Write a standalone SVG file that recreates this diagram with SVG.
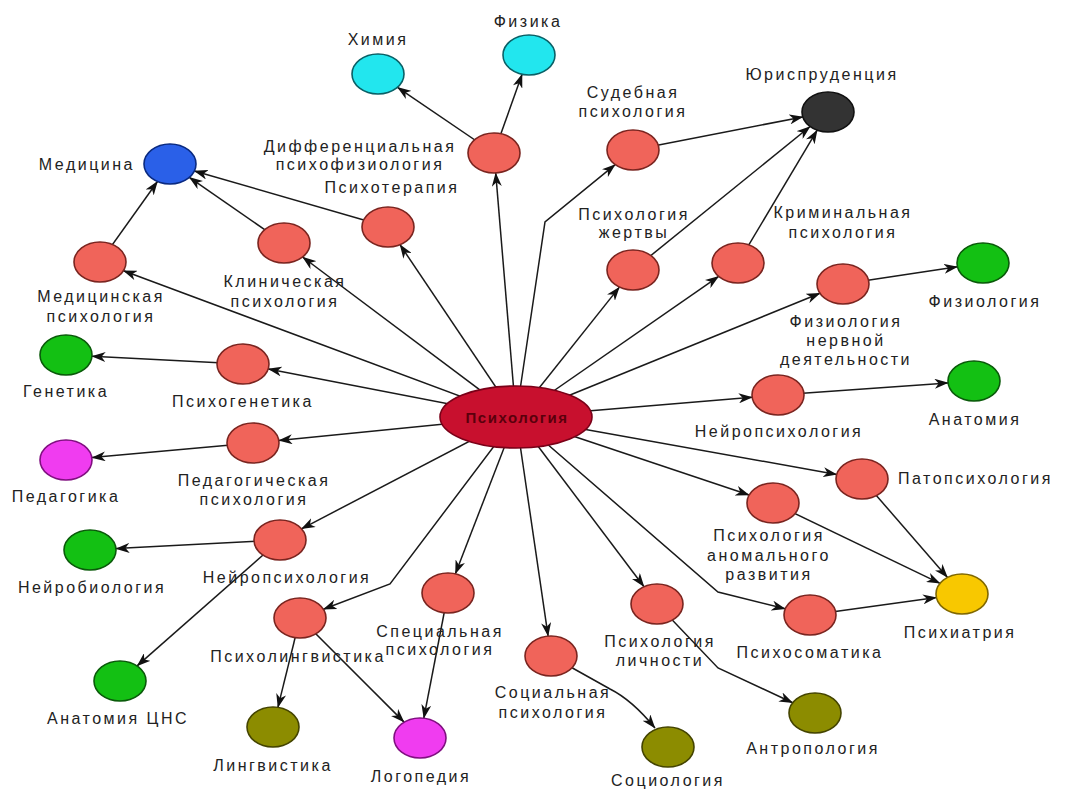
<svg xmlns="http://www.w3.org/2000/svg" width="1066" height="792" viewBox="0 0 1066 792">
<style>
.t{font-family:"Liberation Sans",Arial,sans-serif;font-size:16px;letter-spacing:2.5px;fill:#222;text-anchor:middle}
.e{fill:none;stroke:#1a1a1a;stroke-width:1.5;marker-end:url(#ah)}
.r{fill:#f0645a;stroke:#7a2520;stroke-width:1.6}
.g{fill:#13c013;stroke:#0a5a0a;stroke-width:1.6}
.c{fill:#22e6ee;stroke:#0a6066;stroke-width:1.6}
.m{fill:#f03cf0;stroke:#801080;stroke-width:1.6}
.o{fill:#8c8c00;stroke:#444400;stroke-width:1.6}
.y{fill:#f8c800;stroke:#806800;stroke-width:1.6}
.b{fill:#2a60e8;stroke:#0a2a80;stroke-width:1.6}
.k{fill:#333;stroke:#111;stroke-width:1.6}
</style>
<defs>
<marker id="ah" markerWidth="14" markerHeight="10" refX="13.5" refY="5" orient="auto" markerUnits="userSpaceOnUse">
<path d="M0,0 L14,5 L0,10 L4,5 z" fill="#111"/>
</marker>
</defs>
<rect width="1066" height="792" fill="#fff"/>
<g id="connectors">
<path class="e" d="M516,417 L495.7,172.9"/>
<path class="e" d="M516,417 L400,244.7"/>
<path class="e" d="M516,417 L302.6,257"/>
<path class="e" d="M516,417 L123.4,270.7"/>
<path class="e" d="M516,417 L268.2,368.9"/>
<path class="e" d="M516,417 L278.8,440.5"/>
<path class="e" d="M516,417 L301.5,528.8"/>
<path class="e" d="M516,417 L390,584 L323.3,609.2"/>
<path class="e" d="M516,417 L455.4,573.8"/>
<path class="e" d="M516,417 L548.1,636.1"/>
<path class="e" d="M516,417 L644,586.7"/>
<path class="e" d="M516,417 L718,592 L785.3,608.8"/>
<path class="e" d="M516,417 L749.2,495"/>
<path class="e" d="M516,417 L836.7,474.5"/>
<path class="e" d="M516,417 L752.2,397.2"/>
<path class="e" d="M516,417 L820,293.3"/>
<path class="e" d="M516,417 L718.7,276.4"/>
<path class="e" d="M516,417 L619.4,287.1"/>
<path class="e" d="M516,417 L545,222 L615.2,164.6"/>
<path class="e" d="M494,153 L397.5,87.3"/>
<path class="e" d="M494,153 L522.1,74.3"/>
<path class="e" d="M388,227 L194.3,171"/>
<path class="e" d="M284,243 L189.3,177.4"/>
<path class="e" d="M100,262 L157.5,181.5"/>
<path class="e" d="M633,150 L802.9,116.9"/>
<path class="e" d="M633,270 L810.1,126.5"/>
<path class="e" d="M738,263 L817.2,130.2"/>
<path class="e" d="M843,284 L957.5,266.8"/>
<path class="e" d="M778,395 L948.1,382.9"/>
<path class="e" d="M243,364 L92,356.3"/>
<path class="e" d="M253,443 L91.9,457.6"/>
<path class="e" d="M280,540 L116,548.6"/>
<path class="e" d="M280,540 L137.1,665.9"/>
<path class="e" d="M300,618 L277.9,707.4"/>
<path class="e" d="M300,618 L404.1,722.1"/>
<path class="e" d="M448,593 L423.8,718.2"/>
<path class="e" d="M551,656 L610,689 Q632,700 655,728"/>
<path class="e" d="M657,604 L718,668 L792.7,702.7"/>
<path class="e" d="M862,479 L947.5,577.4"/>
<path class="e" d="M773,503 L940,583.4"/>
<path class="e" d="M810,615 L936.4,597.5"/>
</g>
<g id="psychology">
<ellipse cx="516" cy="417" rx="76" ry="31" fill="#c8102e" stroke="#7a0018" stroke-width="1.6"/>
<text x="517" y="423" style="font-family:'Liberation Sans',Arial,sans-serif;font-size:15px;letter-spacing:1.5px;font-weight:bold;fill:#5a000c;text-anchor:middle">Психология</text>
</g>
<g id="chemistry"><ellipse class="c" cx="378" cy="74" rx="26" ry="20"/><text class="t" x="378" y="45">Химия</text></g>
<g id="physics"><ellipse class="c" cx="529" cy="55" rx="26" ry="20"/><text class="t" x="528" y="27">Физика</text></g>
<g id="law"><ellipse class="k" cx="828" cy="112" rx="26" ry="20"/><text class="t" x="822" y="80">Юриспруденция</text></g>
<g id="medicine"><ellipse class="b" cx="170" cy="164" rx="26" ry="20"/><text class="t" x="135" y="170" style="text-anchor:end">Медицина</text></g>
<g id="diff-psychophys"><ellipse class="r" cx="494" cy="153" rx="26" ry="20"/><text class="t" x="360" y="152">Дифференциальная</text><text class="t" x="360" y="170">психофизиология</text></g>
<g id="psychotherapy"><ellipse class="r" cx="388" cy="227" rx="26" ry="20"/><text class="t" x="392" y="193">Психотерапия</text></g>
<g id="clinical"><ellipse class="r" cx="284" cy="243" rx="26" ry="20"/><text class="t" x="285" y="287">Клиническая</text><text class="t" x="285" y="307">психология</text></g>
<g id="medical"><ellipse class="r" cx="100" cy="262" rx="26" ry="20"/><text class="t" x="101" y="302">Медицинская</text><text class="t" x="101" y="322">психология</text></g>
<g id="forensic"><ellipse class="r" cx="633" cy="150" rx="26" ry="20"/><text class="t" x="633" y="98">Судебная</text><text class="t" x="633" y="117">психология</text></g>
<g id="victim"><ellipse class="r" cx="633" cy="270" rx="26" ry="20"/><text class="t" x="634" y="220">Психология</text><text class="t" x="634" y="238">жертвы</text></g>
<g id="criminal"><ellipse class="r" cx="738" cy="263" rx="26" ry="20"/><text class="t" x="843" y="218">Криминальная</text><text class="t" x="843" y="238">психология</text></g>
<g id="physio-nervous"><ellipse class="r" cx="843" cy="284" rx="26" ry="20"/><text class="t" x="846" y="327">Физиология</text><text class="t" x="846" y="346">нервной</text><text class="t" x="846" y="365">деятельности</text></g>
<g id="physiology"><ellipse class="g" cx="983" cy="263" rx="26" ry="20"/><text class="t" x="985" y="307">Физиология</text></g>
<g id="genetics"><ellipse class="g" cx="66" cy="355" rx="26" ry="20"/><text class="t" x="66" y="397">Генетика</text></g>
<g id="psychogenetics"><ellipse class="r" cx="243" cy="364" rx="26" ry="20"/><text class="t" x="243" y="407">Психогенетика</text></g>
<g id="neuropsych-right"><ellipse class="r" cx="778" cy="395" rx="26" ry="20"/><text class="t" x="779" y="437">Нейропсихология</text></g>
<g id="anatomy"><ellipse class="g" cx="974" cy="381" rx="26" ry="20"/><text class="t" x="975" y="425">Анатомия</text></g>
<g id="pedagogical"><ellipse class="r" cx="253" cy="443" rx="26" ry="20"/><text class="t" x="254" y="486">Педагогическая</text><text class="t" x="254" y="505">психология</text></g>
<g id="pedagogy"><ellipse class="m" cx="66" cy="460" rx="26" ry="20"/><text class="t" x="66" y="502">Педагогика</text></g>
<g id="pathopsych"><ellipse class="r" cx="862" cy="479" rx="26" ry="20"/><text class="t" x="898" y="484" style="text-anchor:start">Патопсихология</text></g>
<g id="abnormal-dev"><ellipse class="r" cx="773" cy="503" rx="26" ry="20"/><text class="t" x="769" y="541">Психология</text><text class="t" x="769" y="561">аномального</text><text class="t" x="769" y="580">развития</text></g>
<g id="neuropsych-left"><ellipse class="r" cx="280" cy="540" rx="26" ry="20"/><text class="t" x="287" y="583">Нейропсихология</text></g>
<g id="neurobiology"><ellipse class="g" cx="90" cy="550" rx="26" ry="20"/><text class="t" x="92" y="593">Нейробиология</text></g>
<g id="special"><ellipse class="r" cx="448" cy="593" rx="26" ry="20"/><text class="t" x="440" y="637">Специальная</text><text class="t" x="440" y="655">психология</text></g>
<g id="psycholinguistics"><ellipse class="r" cx="300" cy="618" rx="26" ry="20"/><text class="t" x="298" y="662">Психолингвистика</text></g>
<g id="personality"><ellipse class="r" cx="657" cy="604" rx="26" ry="20"/><text class="t" x="660" y="647">Психология</text><text class="t" x="660" y="666">личности</text></g>
<g id="psychosomatics"><ellipse class="r" cx="810" cy="615" rx="26" ry="20"/><text class="t" x="810" y="658">Психосоматика</text></g>
<g id="psychiatry"><ellipse class="y" cx="962" cy="594" rx="26" ry="20"/><text class="t" x="960" y="638">Психиатрия</text></g>
<g id="social"><ellipse class="r" cx="551" cy="656" rx="26" ry="20"/><text class="t" x="553" y="698">Социальная</text><text class="t" x="553" y="718">психология</text></g>
<g id="cns-anatomy"><ellipse class="g" cx="120" cy="681" rx="26" ry="20"/><text class="t" x="118" y="724">Анатомия ЦНС</text></g>
<g id="linguistics"><ellipse class="o" cx="273" cy="727" rx="26" ry="20"/><text class="t" x="273" y="771">Лингвистика</text></g>
<g id="speech-therapy"><ellipse class="m" cx="420" cy="738" rx="26" ry="20"/><text class="t" x="421" y="782">Логопедия</text></g>
<g id="anthropology"><ellipse class="o" cx="815" cy="713" rx="26" ry="20"/><text class="t" x="813" y="754">Антропология</text></g>
<g id="sociology"><ellipse class="o" cx="668" cy="747" rx="26" ry="20"/><text class="t" x="668" y="786">Социология</text></g>
</svg>
